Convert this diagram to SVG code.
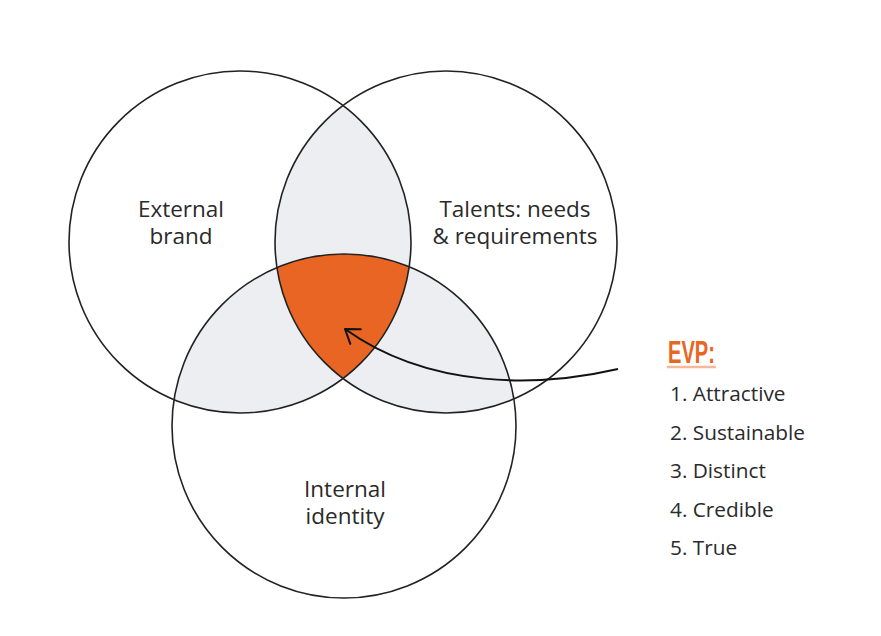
<svg xmlns="http://www.w3.org/2000/svg" width="881" height="636" viewBox="0 0 881 636">
<style>
.circ{fill:none;stroke:#222;stroke-width:1.6}
.lens{fill:#ECEEF1;stroke:none}
.core{fill:#E96524;stroke:none}
.lbl{font-family:"Open Sans","Noto Sans","DejaVu Sans",sans-serif;font-size:22.5px;fill:#2a2a2a;text-anchor:middle}
.item{font-family:"Open Sans","Noto Sans","DejaVu Sans",sans-serif;font-size:20.8px;fill:#2a2a2a}
.evp{font-family:"Liberation Sans","DejaVu Sans",sans-serif;font-weight:bold;font-size:32px;fill:#E96524}
.conn{fill:none;stroke:#111;stroke-width:2}
</style>
<defs>
<marker id="chev" markerUnits="userSpaceOnUse" markerWidth="30" markerHeight="30" refX="0" refY="0" viewBox="-15 -15 30 30" orient="auto">
<path d="M -13 -9 L 0 0 L -13 9" fill="none" stroke="#111" stroke-width="2" stroke-linecap="round" stroke-linejoin="round"/>
</marker>
</defs>
<rect width="881" height="636" fill="#fff"/>
<g id="overlaps">
<path class="lens" d="M 343 105.5 A 171 171 0 0 1 343 378.5 A 171 171 0 0 1 343 105.5 Z"/>
<path class="lens" d="M 174 399.8 A 172 172 0 0 1 409.2 266.8 A 171 171 0 0 1 174 399.8 Z"/>
<path class="lens" d="M 276.9 267.6 A 172 172 0 0 1 513.9 399 A 171 171 0 0 1 276.9 267.6 Z"/>
<path class="core" d="M 276.9 267.6 A 172 172 0 0 1 409.2 266.8 A 171 171 0 0 1 343 378.5 A 171 171 0 0 1 276.9 267.6 Z"/>
</g>
<g id="external-brand">
<circle class="circ" cx="240" cy="242" r="171"/>
<text class="lbl" x="181" y="217">External</text>
<text class="lbl" x="181" y="244">brand</text>
</g>
<g id="talents">
<circle class="circ" cx="446" cy="242" r="171"/>
<text class="lbl" x="515" y="217">Talents: needs</text>
<text class="lbl" x="515" y="244">&amp; requirements</text>
</g>
<g id="internal-identity">
<circle class="circ" cx="344" cy="426" r="172"/>
<text class="lbl" x="345" y="497">Internal</text>
<text class="lbl" x="345" y="524">identity</text>
</g>
<g id="connectors">
<path class="conn" d="M 618 369 C 540 387, 430 390, 345 329" marker-end="url(#chev)"/>
</g>
<g id="evp">
<line x1="667" y1="367" x2="716" y2="367" stroke="#F5B898" stroke-width="2.5"/>
<text class="evp" x="668" y="363" textLength="47" lengthAdjust="spacingAndGlyphs">EVP:</text>
<text class="item" x="670" y="401">1. Attractive</text>
<text class="item" x="670" y="440">2. Sustainable</text>
<text class="item" x="670" y="478">3. Distinct</text>
<text class="item" x="670" y="517">4. Credible</text>
<text class="item" x="670" y="555">5. True</text>
</g>
</svg>
